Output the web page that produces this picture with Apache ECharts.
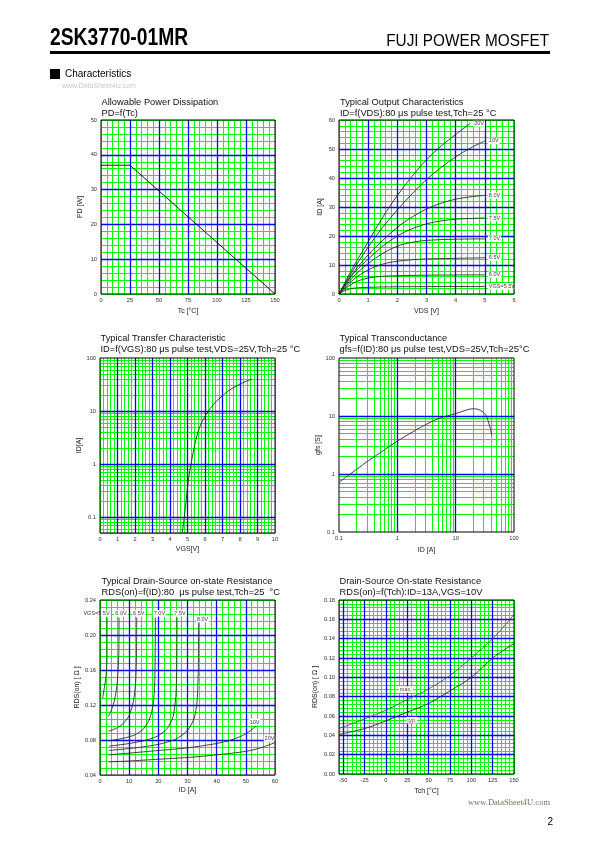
<!DOCTYPE html>
<html>
<head>
<meta charset="utf-8">
<script src="https://cdn.jsdelivr.net/npm/echarts@6/dist/echarts.min.js"></script>
<style>html,body{margin:0;padding:0;background:#fff}#c{width:595px;height:842px}</style>
</head>
<body>
<div id="c"></div>
<script>
// ================= DATA =================
// Chart 1 : Allowable Power Dissipation  PD=f(Tc)
const pdTc = [0, 25, 150];
const pdW  = [37, 37, 0];

// Chart 2 : Typical Output Characteristics  [VDS (V), ID (A)]
const outLabels = ['20V', '10V', '8.0V', '7.5V', '7.0V', '6.5V', '6.0V', 'VGS=5.5V'];
const out20V  = [[0,0],[0.5,9.5],[1,18],[1.5,26.5],[2,34],[2.5,40.5],[3,46.3],[3.5,51],[4,55],[4.5,58.8]];
const out10V  = [[0,0],[0.5,8.5],[1,16.2],[1.5,23],[2,29],[2.5,34.5],[3,39.5],[3.5,43.6],[4,47.3],[4.5,50.3],[5,52.8]];
const out8V   = [[0,0],[0.5,7.5],[1,13.5],[1.5,18.5],[2,23],[2.5,26.5],[3,29.3],[3.5,31.3],[4,32.7],[4.5,33.5],[5,34]];
const out7_5V = [[0,0],[0.5,7],[1,12],[1.5,16.5],[2,20],[2.5,22.5],[3,24.2],[3.5,25.2],[4,25.8],[5,26.2]];
const out7V   = [[0,0],[0.5,6],[1,10.5],[1.5,14],[2,16.5],[2.5,17.8],[3,18.5],[4,18.9],[5,19]];
const out6_5V = [[0,0],[0.5,5],[1,8.3],[1.5,10.3],[2,11.3],[2.5,11.8],[3,12.1],[4,12.3],[5,12.5]];
const out6V   = [[0,0],[0.3,2.5],[0.6,4.3],[1,5.5],[1.5,6.1],[2,6.3],[3,6.5],[5,6.6]];
const out5_5V = [[0,0],[0.2,1.2],[0.5,2.0],[1,2.3],[2,2.5],[5,2.6]];

// Chart 3 : Typical Transfer Characteristic  [VGS (V), ID (A)]
const transfer = [[4.70,0.05],[4.82,0.1],[4.95,0.25],[5.05,0.5],[5.2,1.0],[5.4,2.2],[5.6,4.0],[5.85,6.5],[6.2,10],[6.5,13.5],[6.8,17],[7.3,23.5],[7.9,31],[8.4,37],[8.7,40]];

// Chart 4 : Typical Transconductance  [ID (A), gfs (S)]
const gfs = [[0.1,0.72],[0.2,1.2],[0.32,1.7],[0.5,2.3],[1,3.7],[2,5.6],[3,7.0],[5,9.0],[10,11.0],[15,12.6],[19,13.3],[23,13.2],[26.5,12.5],[30,11.5],[32.5,10.5],[35,9.0],[37,7.5],[39.5,6.0],[41.5,4.6]];

// Chart 5 : Typical Drain-Source on-state Resistance  [ID (A), RDS(on) (ohm)]
const rdsLabels = ['VGS=5.5V', '6.0V', '6.5V', '7.0V', '7.5V', '8.0V', '10V', '20V'];
const rds5_5V = [[0.9,0.128],[1.3,0.136],[1.8,0.146],[2.2,0.158],[2.4,0.175],[2.4,0.22]];
const rds6V   = [[2.9,0.107],[4.0,0.115],[5.0,0.126],[5.8,0.142],[6.3,0.165],[6.5,0.19],[6.5,0.22]];
const rds6_5V = [[2.9,0.090],[6,0.094],[8,0.099],[10,0.108],[11.5,0.125],[12.2,0.145],[12.5,0.175],[12.6,0.22]];
const rds7V   = [[2.9,0.079],[8,0.082],[12,0.086],[15,0.093],[17,0.104],[18.3,0.122],[18.8,0.15],[19,0.22]];
const rds7_5V = [[3.2,0.073],[10,0.076],[16,0.080],[20,0.085],[23,0.093],[25,0.106],[26,0.13],[26.3,0.16],[26.4,0.22]];
const rds8V   = [[3.2,0.068],[12,0.071],[20,0.075],[26,0.081],[30,0.091],[32.3,0.105],[33.3,0.125],[33.7,0.16],[33.8,0.215]];
const rds10V  = [[2.9,0.063],[10,0.065],[20,0.068],[30,0.071],[40,0.076],[45,0.080],[50,0.087],[53.5,0.096]];
const rds20V  = [[3,0.055],[10,0.056],[20,0.058],[30,0.060],[40,0.063],[50,0.067],[55,0.071],[60,0.077]];

// Chart 6 : Drain-Source On-state Resistance vs Tch
const tchC   = [-55, -25, 0, 25, 50, 75, 100, 125, 150];
const rdsMax = [0.047, 0.057, 0.066, 0.077, 0.088, 0.102, 0.120, 0.140, 0.165];
const rdsTyp = [0.041, 0.047, 0.055, 0.064, 0.073, 0.086, 0.100, 0.120, 0.135];

// Grid tick values (blue major lines)
const c1MajX = [25, 50, 75, 100, 125],        c1MajY = [10, 20, 30, 40];
const c2MajX = [1, 2, 3, 4, 5],               c2MajY = [10, 20, 30, 40, 50];
const c3MajX = [1, 2, 3, 4, 5, 6, 7, 8, 9],   c3MajY = [0.1, 1, 10];
const c4MajX = [1, 10],                       c4MajY = [1, 10];
const c5MajX = [10, 20, 30, 40, 50],          c5MajY = [0.08, 0.12, 0.16, 0.20];
const c6MajX = [-50, -25, 0, 25, 50, 75, 100, 125], c6MajY = [0.02, 0.04, 0.06, 0.08, 0.10, 0.12, 0.14, 0.16];

// ================= STYLE / HELPERS =================
const FONT = "'Liberation Sans', Arial, Helvetica, sans-serif";
const GREEN = '#00ff00', BLUE = '#0000ff', INK = '#2a2a2a';

function isMult(v, m) { const r = v / m; return Math.abs(r - Math.round(r)) < 1e-6; }

function linAxis(o) {
  return {
    type: 'value', gridIndex: o.g, min: o.min, max: o.max, interval: o.minor,
    name: o.name, nameLocation: 'middle', nameGap: o.gap,
    nameTextStyle: {fontFamily: FONT, fontSize: 7, color: '#222'},
    axisLine: {show: false}, axisTick: {show: false},
    axisLabel: {
      fontFamily: FONT, fontSize: 5.7, color: '#333', margin: o.margin || 4,
      showMinLabel: true, showMaxLabel: true,
      formatter: v => isMult(v, o.major) ? (o.dec != null ? v.toFixed(o.dec) : String(Math.round(v * 1e6) / 1e6)) : ''
    },
    splitLine: {show: true, lineStyle: {color: GREEN, width: 1}}
  };
}
function logAxis(o) {
  return {
    type: 'log', logBase: 10, gridIndex: o.g, min: o.min, max: o.max,
    name: o.name, nameLocation: 'middle', nameGap: o.gap,
    nameTextStyle: {fontFamily: FONT, fontSize: 7, color: '#222'},
    axisLine: {show: false}, axisTick: {show: false},
    minorTick: {show: false, splitNumber: 9},
    minorSplitLine: {show: true, lineStyle: {color: GREEN, width: 1}},
    axisLabel: {
      fontFamily: FONT, fontSize: 5.7, color: '#333', margin: o.margin || 4,
      showMinLabel: true, showMaxLabel: true,
      formatter: v => { const l = Math.log10(v); return Math.abs(l - Math.round(l)) < 1e-6 ? String(Number(v.toPrecision(3))) : ''; }
    },
    splitLine: {show: false}
  };
}
function gridLines(g, xs, ys, color, width, z) {
  return {
    type: 'line', xAxisIndex: g, yAxisIndex: g, data: [], silent: true, z: z, animation: false,
    markLine: {
      silent: true, animation: false, symbol: ['none', 'none'], z: z, precision: 6,
      label: {show: false}, emphasis: {disabled: true},
      lineStyle: {color: color, width: width, type: 'solid', opacity: 1},
      data: xs.map(v => ({xAxis: v})).concat(ys.map(v => ({yAxis: v})))
    }
  };
}
const LBL = {show: true, fontFamily: FONT, fontSize: 5.5, color: '#444', backgroundColor: '#fff', padding: [0.5, 1, 0, 1]};
function labelAt(pts, idx, text, opt) {
  const d = pts.map(p => p.slice());
  d[idx] = {value: d[idx], label: Object.assign({}, LBL, {formatter: text}, opt)};
  return d;
}
function curve(g, data, opt) {
  return Object.assign({
    type: 'line', xAxisIndex: g, yAxisIndex: g, data: data,
    symbol: 'circle', symbolSize: 0, showSymbol: true, label: {show: false},
    smooth: 0.35, lineStyle: {color: INK, width: 0.9}, itemStyle: {color: INK},
    z: 3, silent: true, animation: false
  }, opt || {});
}

// ================= LAYOUT =================
const grids = [
  {left: 101, top: 120, width: 174, height: 174},
  {left: 339, top: 120, width: 175, height: 174},
  {left: 100, top: 358, width: 175, height: 175},
  {left: 339, top: 358, width: 175, height: 174},
  {left: 100, top: 600, width: 175, height: 175},
  {left: 339, top: 600, width: 175, height: 174}
].map(g => Object.assign({show: true, borderColor: '#000', borderWidth: 1, backgroundColor: 'transparent', z: 20}, g));

const xAxes = [
  linAxis({g: 0, min: 0, max: 150, minor: 5, major: 25, name: 'Tc [°C]', gap: 14, margin: 3}),
  linAxis({g: 1, min: 0, max: 6, minor: 0.2, major: 1, name: 'VDS [V]', gap: 14, margin: 3}),
  linAxis({g: 2, min: 0, max: 10, minor: 0.2, major: 1, name: 'VGS[V]', gap: 13, margin: 3}),
  logAxis({g: 3, min: 0.1, max: 100, name: 'ID [A]', gap: 15, margin: 3}),
  linAxis({g: 4, min: 0, max: 60, minor: 2, major: 10, name: 'ID [A]', gap: 12, margin: 3}),
  linAxis({g: 5, min: -55, max: 150, minor: 5, major: 25, name: 'Tch [°C]', gap: 14, margin: 3})
];
const yAxes = [
  linAxis({g: 0, min: 0, max: 50, minor: 2, major: 10, name: 'PD [W]', gap: 17}),
  linAxis({g: 1, min: 0, max: 60, minor: 2, major: 10, name: 'ID [A]', gap: 15}),
  logAxis({g: 2, min: 0.05, max: 100, name: 'ID[A]', gap: 13}),
  logAxis({g: 3, min: 0.1, max: 100, name: 'gfs [S]', gap: 15}),
  linAxis({g: 4, min: 0.04, max: 0.24, minor: 0.008, major: 0.04, dec: 2, name: 'RDS(on) [ Ω ]', gap: 18}),
  linAxis({g: 5, min: 0, max: 0.18, minor: 0.004, major: 0.02, dec: 2, name: 'RDS(on) [ Ω ]', gap: 20})
];

const titleStyle = {fontFamily: FONT, fontSize: 9.3, fontWeight: 'normal', color: '#111', lineHeight: 11};
const titles = [
  {left: 101.5, top: 96.5, text: 'Allowable Power Dissipation\nPD=f(Tc)'},
  {left: 340, top: 96.5, text: 'Typical Output Characteristics\nID=f(VDS):80 μs pulse test,Tch=25 °C'},
  {left: 100.5, top: 333, text: 'Typical Transfer Characteristic\nID=f(VGS):80 μs pulse test,VDS=25V,Tch=25 °C'},
  {left: 339.5, top: 333, text: 'Typical Transconductance\ngfs=f(ID):80 μs pulse test,VDS=25V,Tch=25°C'},
  {left: 101.5, top: 576, text: 'Typical Drain-Source on-state Resistance\nRDS(on)=f(ID):80  μs pulse test,Tch=25  °C'},
  {left: 339.5, top: 576, text: 'Drain-Source On-state Resistance\nRDS(on)=f(Tch):ID=13A,VGS=10V'}
].map(t => Object.assign({padding: 0, textStyle: titleStyle}, t));

// ================= SERIES =================
const series = [];
// blue major grid lines
series.push(gridLines(0, c1MajX, c1MajY, BLUE, 1.3, 2));
series.push(gridLines(1, c2MajX, c2MajY, BLUE, 1.3, 2));
series.push(gridLines(2, c3MajX, c3MajY, BLUE, 1.3, 2));
series.push(gridLines(3, c4MajX, c4MajY, BLUE, 1.3, 2));
series.push(gridLines(4, c5MajX, c5MajY, BLUE, 1.3, 2));
series.push(gridLines(5, c6MajX, c6MajY, BLUE, 1.3, 2));

// chart 1
series.push(curve(0, pdTc.map((t, i) => [t, pdW[i]]), {smooth: false, lineStyle: {color: '#000', width: 0.9}}));

// chart 2
const outSets = [out20V, out10V, out8V, out7_5V, out7V, out6_5V, out6V, out5_5V];
outSets.forEach((pts, i) => {
  series.push(curve(1, labelAt(pts, pts.length - 1, outLabels[i], {position: 'right', distance: 3})));
});

// chart 3
series.push(curve(2, transfer));
// chart 4
series.push(curve(3, gfs));

// chart 5
const rdsSets = [rds5_5V, rds6V, rds6_5V, rds7V, rds7_5V, rds8V, rds10V, rds20V];
const rdsLblOpt = [
  {position: 'top', distance: 1, offset: [-10.5, 0]},
  {position: 'top', distance: 1, offset: [2, 0]},
  {position: 'top', distance: 1, offset: [2, 0]},
  {position: 'top', distance: 1, offset: [4, 0]},
  {position: 'top', distance: 1, offset: [3, 0]},
  {position: 'top', distance: 1, offset: [4, 1.5]},
  {position: 'top', distance: 1, offset: [-1.5, 0]},
  {position: 'top', distance: 1, offset: [-5.5, 0]}
];
rdsSets.forEach((pts, i) => {
  series.push(curve(4, labelAt(pts, pts.length - 1, rdsLabels[i], rdsLblOpt[i]), {smooth: 0.25}));
});

// chart 6
const maxPts = tchC.map((t, i) => [t, rdsMax[i]]);
const typPts = tchC.map((t, i) => [t, rdsTyp[i]]);
series.push(curve(5, labelAt(maxPts, 3, 'max.', {position: 'inside', offset: [-1.5, -10]}), {lineStyle: {color: '#555', width: 0.9}}));
series.push(curve(5, labelAt(typPts, 3, 'typ.', {position: 'inside', offset: [4.5, 8]})));

// ================= PAGE DECORATION =================
const graphic = [
  {type: 'text', x: 50, y: 39, scaleX: 0.82, style: {text: '2SK3770-01MR', fontFamily: FONT, fontSize: 23.5, fontWeight: 'bold', fill: '#000', verticalAlign: 'middle'}},
  {type: 'text', x: 549, y: 41, scaleX: 0.93, style: {text: 'FUJI POWER MOSFET', fontFamily: FONT, fontSize: 16.5, fill: '#000', align: 'right', verticalAlign: 'middle'}},
  {type: 'line', shape: {x1: 50, y1: 52.5, x2: 550, y2: 52.5}, style: {stroke: '#000', lineWidth: 3}},
  {type: 'rect', shape: {x: 50, y: 69, width: 10, height: 10}, style: {fill: '#000'}},
  {type: 'text', x: 65, y: 74.5, style: {text: 'Characteristics', fontFamily: FONT, fontSize: 10, fill: '#000', verticalAlign: 'middle'}},
  {type: 'text', x: 62, y: 86, style: {text: 'www.DataSheet4U.com', fontFamily: FONT, fontSize: 7, fill: '#c8c8c8', verticalAlign: 'middle'}},
  {type: 'text', x: 550, y: 803, style: {text: 'www.DataSheet4U.com', fontFamily: "'Liberation Serif', serif", fontSize: 8.5, fill: '#7d6e60', align: 'right', verticalAlign: 'middle'}},
  {type: 'text', x: 553, y: 822, style: {text: '2', fontFamily: FONT, fontSize: 10, fill: '#000', align: 'right', verticalAlign: 'middle'}}
];

const chart = echarts.init(document.getElementById('c'), null, {renderer: 'canvas', width: 595, height: 842});
chart.setOption({
  animation: false,
  backgroundColor: '#fff',
  title: titles,
  grid: grids,
  xAxis: xAxes,
  yAxis: yAxes,
  series: series,
  graphic: graphic
});
</script>
</body>
</html>
